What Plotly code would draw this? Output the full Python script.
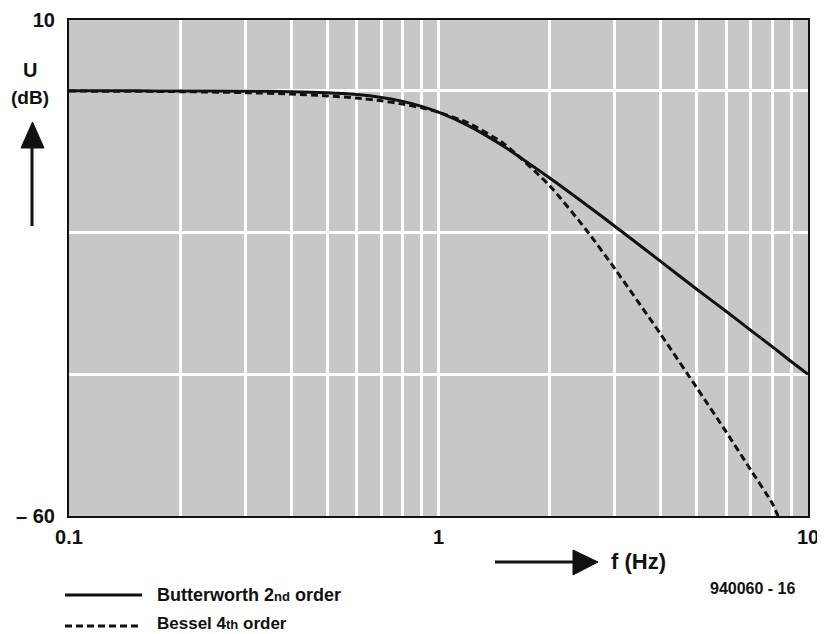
import plotly.graph_objects as go

# ---- data ----
freq_bw = [0.1, 0.15, 0.2, 0.3, 0.4, 0.5, 0.6, 0.7, 0.8, 0.9, 1.0, 1.2, 1.5, 2.0, 2.5, 3.0, 4.0, 5.0, 6.0, 7.0, 8.0, 9.0, 10.0]
butterworth_db = [0.0, 0.0, -0.01, -0.04, -0.11, -0.26, -0.53, -0.93, -1.49, -2.19, -3.01, -4.88, -7.83, -12.3, -16.0, -19.1, -24.1, -28.0, -31.1, -33.8, -36.1, -38.2, -40.0]

freq_bs = [0.1, 0.15, 0.2, 0.3, 0.4, 0.5, 0.6, 0.7, 0.8, 0.9, 1.0, 1.2, 1.5, 2.0, 2.5, 3.0, 4.0, 5.0, 6.0, 7.0, 8.0, 8.3]
bessel_db = [-0.03, -0.06, -0.11, -0.25, -0.45, -0.71, -1.02, -1.41, -1.86, -2.40, -3.01, -4.51, -7.42, -13.4, -19.5, -25.1, -34.4, -41.9, -48.1, -53.5, -58.2, -60.0]

x_tickvals = [0.1, 0.2, 0.3, 0.4, 0.5, 0.6, 0.7, 0.8, 0.9, 1, 2, 3, 4, 5, 6, 7, 8, 9, 10]
x_ticktext = ["0.1", "", "", "", "", "", "", "", "", "1", "", "", "", "", "", "", "", "", "10"]
y_tickvals = [-60, -40, -20, 0, 10]
y_ticktext = ["\u2013 60", "", "", "", "10"]

FONT = "Liberation Sans, Arial, Helvetica, sans-serif"
INK = "#111111"

# the page body has an 8px margin; compensate so the figure lands where the reference is
OFF = 8
W, H = 825 - OFF, 634 - OFF

fig = go.Figure()
fig.add_trace(go.Scatter(x=freq_bw, y=butterworth_db, mode="lines", name="Butterworth 2nd order",
                         line=dict(color=INK, width=3, shape="spline", smoothing=0.6)))
fig.add_trace(go.Scatter(x=freq_bs, y=bessel_db, mode="lines", name="Bessel 4th order",
                         line=dict(color=INK, width=3, dash="7px,4px", shape="spline", smoothing=0.6)))

# plot-area geometry in absolute screen pixels
L, R, T, B = 69, 808, 20, 516
def px(x):
    return (x - L) / (R - L)
def py(y):
    return (B - y) / (B - T)

shapes = []
# up arrow (y axis)
shapes.append(dict(type="line", xref="paper", yref="paper", x0=px(32), x1=px(32), y0=py(226), y1=py(145),
                   line=dict(color=INK, width=3)))
shapes.append(dict(type="path", xref="paper", yref="paper",
                   path=f"M {px(21)} {py(148)} L {px(44)} {py(148)} L {px(32.5)} {py(122)} Z",
                   fillcolor=INK, line=dict(color=INK, width=1)))
# right arrow (x axis)
shapes.append(dict(type="line", xref="paper", yref="paper", x0=px(495), x1=px(576), y0=py(562), y1=py(562),
                   line=dict(color=INK, width=3)))
shapes.append(dict(type="path", xref="paper", yref="paper",
                   path=f"M {px(573)} {py(550)} L {px(573)} {py(575)} L {px(598)} {py(562)} Z",
                   fillcolor=INK, line=dict(color=INK, width=1)))
# legend samples
shapes.append(dict(type="line", xref="paper", yref="paper", x0=px(65), x1=px(142), y0=py(595), y1=py(595),
                   line=dict(color=INK, width=3)))
shapes.append(dict(type="line", xref="paper", yref="paper", x0=px(65), x1=px(142), y0=py(626), y1=py(626),
                   line=dict(color=INK, width=3, dash="7px,4px")))

ann = []
def text(x, y, s, size, xanchor="center"):
    ann.append(dict(x=px(x), y=py(y), xref="paper", yref="paper", text=s, showarrow=False,
                    xanchor=xanchor, yanchor="middle", font=dict(family=FONT, size=size, color=INK)))

text(30, 70, "<b>U</b>", 20)
text(30, 97, "<b>(dB)</b>", 19)
text(609, 561, "<b>f (Hz)</b>", 22, xanchor="left")
text(798, 588, "<b>940060 - 16</b>", 16, xanchor="right")
text(155, 595, "<b>Butterworth 2<span style='font-size:13px'>nd</span> order</b>", 18, xanchor="left")
text(155, 623, "<b>Bessel 4<span style='font-size:13px'>th</span> order</b>", 17, xanchor="left")

fig.update_layout(
    width=W, height=H,
    margin=dict(l=L - OFF, r=825 - R, t=T - OFF, b=634 - B, autoexpand=False),
    paper_bgcolor="white",
    plot_bgcolor="#c7c7c7",
    showlegend=False,
    font=dict(family=FONT, size=20, color=INK),
    shapes=shapes,
    annotations=ann,
    xaxis=dict(type="log", range=[-1, 1], tickmode="array", tickvals=x_tickvals, ticktext=x_ticktext,
               showgrid=True, gridcolor="white", gridwidth=2.5, zeroline=False,
               showline=True, linecolor=INK, linewidth=2, mirror=True,
               ticks="outside", ticklen=2, tickcolor="rgba(0,0,0,0)",
               tickfont=dict(family=FONT, size=20, color=INK, weight="bold")),
    yaxis=dict(range=[-60, 10], tickmode="array", tickvals=y_tickvals, ticktext=y_ticktext,
               showgrid=True, gridcolor="white", gridwidth=2.5, zeroline=False,
               showline=True, linecolor=INK, linewidth=2, mirror=True,
               ticks="outside", ticklen=8, tickcolor="rgba(0,0,0,0)",
               tickfont=dict(family=FONT, size=20, color=INK, weight="bold")),
)

fig.write_html("out.html")
